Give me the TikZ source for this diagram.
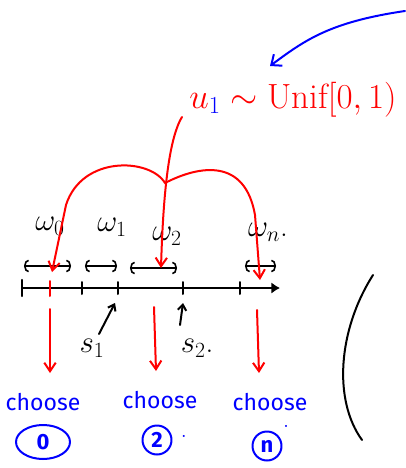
\documentclass[tikz,border=0pt]{standalone}
\usepackage{fix-cm}
\usepackage{fontspec}
\setsansfont{Fira Sans}
\usetikzlibrary{arrows.meta,positioning,shapes.geometric}
\tikzset{
  ink/.style={line width=2pt,line cap=round,line join=round},
  redink/.style={ink,draw=red},
  blueink/.style={ink,draw=blue},
  pickflow/.style={redink,-{Straight Barb[length=3mm,width=4mm]}},
  pointer/.style={ink,-{Straight Barb[length=2mm,width=3mm]}},
  weight/.style={font=\fontsize{31}{34}\selectfont},
  span/.style={ink,line width=1.6pt,{Arc Barb[length=1.6mm,width=4.5mm]}-{Arc Barb[length=1.6mm,width=4.5mm]}},
  choosetext/.style={text=blue,font=\sffamily\fontsize{23}{26}\selectfont},
  circnum/.style={draw=blue,ink,text=blue,circle,inner sep=1pt,minimum size=29pt,
    font=\sffamily\fontsize{22}{24}\selectfont\bfseries}
}
\begin{document}
\begin{tikzpicture}[x=1pt,y=-1pt]
  \useasboundingbox (0,0) rectangle (405,468);
  % the draw u_1
  \node[text=red,font=\fontsize{35}{40}\selectfont] (unif) at (293,100)
    {$u_{\color{blue}1}\sim\mathrm{Unif}[0,1)$};
  \coordinate (bstart) at (405,11);
  \coordinate (btip) at (270,66);
  \draw[blueink,-{Straight Barb[length=3mm,width=5mm]}] (bstart) .. controls (330,22) and (305,40) .. (btip);
  % weights
  \node[weight] (w0) at (50,226) {$\omega_0$};
  \node[weight] (w1) at (112,227) {$\omega_1$};
  \node[weight] (w2) at (167,236) {$\omega_2$};
  \node[weight] (wn) at (268,232) {$\omega_n$.};
  \draw[span] (24,266) -- (71,266);
  \draw[span] (85,266) -- (117,266);
  \draw[span] (130,268) -- (177,268);
  \draw[span] (245,266) -- (276,266);
  % number line
  \coordinate (lineL) at (22,288);
  \coordinate (lineR) at (280,288);
  \draw[ink,line width=2.4pt,-{Latex[length=3mm,width=4mm]}] (lineL) -- (lineR);
  \draw[ink,line width=2.4pt] (22,280) -- (22,296);
  \foreach \x in {82,118,183,240}
    \draw[ink] (\x,282) -- (\x,294);
  \draw[redink] (50,281) -- (50,296);
  % prefix sums
  \node[weight] (s1) at (92,348) {$s_1$};
  \node[weight] (s2) at (197,348) {$s_2$.};
  \coordinate (s1a) at (99,334);
  \coordinate (s2a) at (180,325);
  \draw[pointer] (s1a) -- (115,303);
  \draw[pointer] (s2a) -- (183,303);
  % red arcs from u_1
  \coordinate (trunk) at (182,117);
  \coordinate (fork) at (165,183);
  \draw[pickflow] (trunk) .. controls (168,140) and (163,200) .. (161,268);
  \draw[pickflow] (fork) .. controls (150,158) and (82,155) .. (66,205) -- (52,272);
  \draw[pickflow] (fork) .. controls (200,165) and (245,158) .. (255,215) -- (260,280);
  % choices
  \node[choosetext] (choose0) at (43,402) {choose};
  \node[choosetext] (choose2) at (160,400) {choose};
  \node[choosetext] (chooseN) at (270,402) {choose};
  \node[circnum,ellipse,minimum width=54pt,minimum height=34pt] (c0) at (43,442) {0};
  \node[circnum] (c2) at (157,440) {2};
  \node[circnum] (cN) at (267,446) {n};
  \node[text=blue,font=\Large\bfseries] (dot2) at (184,436) {.};
  \node[text=blue,font=\Large\bfseries] (dotN) at (286,426) {.};
  \draw[pickflow] (50,309) -- (50,373);
  \draw[pickflow] (154,307) -- (156,371);
  \draw[pickflow] (257,310) -- (259,373);
  % right bracket
  \draw[ink] (373,275) .. controls (338,330) and (333,400) .. (362,440);
\end{tikzpicture}
\end{document}
